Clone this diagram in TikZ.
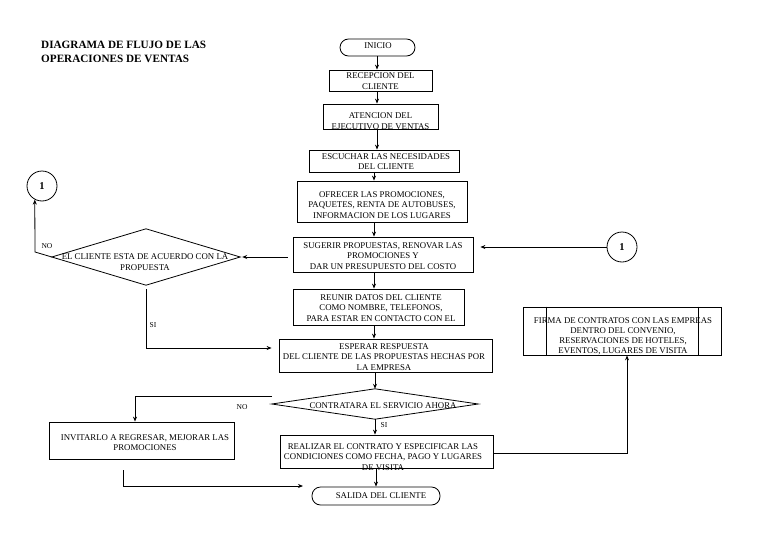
\documentclass[tikz,border=0pt]{standalone}
\usepackage{fontspec}
\setmainfont{Liberation Serif}
\usetikzlibrary{arrows.meta,calc}
\begin{document}
\begin{tikzpicture}[x=1pt,y=-1pt]
\tikzset{
 bx/.style={draw=black, line width=0.8pt, inner sep=0pt, rectangle},
 term/.style={draw=black, line width=0.8pt, inner sep=0pt, rounded corners=8.5pt},
 txt/.style={inner sep=0pt, align=center, font=\fontsize{8.8}{10.5}\selectfont},
 arr/.style={draw=black, line width=0.8pt, -{Stealth[length=5pt,width=4pt]}},
 ln/.style={draw=black, line width=0.8pt},
 circ/.style={draw=black, circle, line width=0.8pt, minimum size=30pt, inner sep=0pt, font=\bfseries\fontsize{10.5}{12}\selectfont},
 lbl/.style={inner sep=0pt, font=\fontsize{7.5}{9}\selectfont},
 area/.style={inner sep=0pt, rectangle}
}
\fill[white] (0,0) rectangle (768,543);
\useasboundingbox (0,0) rectangle (768,543);

% title
\node[anchor=north west, inner sep=0pt, align=left, font=\bfseries\fontsize{11.2}{14}\selectfont] (title) at (41,41) {DIAGRAMA DE FLUJO DE LAS\\OPERACIONES DE VENTAS};

% terminals
\node[term, minimum width=75pt, minimum height=17pt] (ini) at (377.5,47.5) {};
\node[txt] (ini-t) at (378,46) {INICIO};
\node[term, minimum width=128pt, minimum height=18pt] (sal) at (376,496) {};
\node[txt] (sal-t) at (381,496) {SALIDA DEL CLIENTE};

% boxes
\node[bx, minimum width=103pt, minimum height=21pt] (b1) at (380.5,80.5) {};
\node[txt] (b1-t) at (380.5,81) {RECEPCION DEL\\CLIENTE};
\node[bx, minimum width=115pt, minimum height=25pt] (b2) at (380.5,116.5) {};
\node[txt] (b2-t) at (380.5,121) {ATENCION DEL\\EJECUTIVO DE VENTAS};
\node[bx, minimum width=150pt, minimum height=22pt] (b3) at (384,161) {};
\node[txt] (b3-t) at (386,161.5) {ESCUCHAR LAS NECESIDADES\\DEL CLIENTE};
\node[bx, minimum width=170pt, minimum height=41pt] (b4) at (382,201.5) {};
\node[txt] (b4-t) at (382,205) {OFRECER LAS PROMOCIONES,\\PAQUETES, RENTA DE AUTOBUSES,\\INFORMACION DE LOS LUGARES};
\node[bx, minimum width=180pt, minimum height=35pt] (b5) at (383,254.5) {};
\node[txt] (b5-t) at (383,256) {SUGERIR PROPUESTAS, RENOVAR LAS\\PROMOCIONES Y\\DAR UN PRESUPUESTO DEL COSTO};
\node[bx, minimum width=171pt, minimum height=36pt] (b6) at (378.5,307) {};
\node[txt] (b6-t) at (381,308) {REUNIR DATOS DEL CLIENTE\\COMO NOMBRE, TELEFONOS,\\PARA ESTAR EN CONTACTO CON EL};
\node[bx, minimum width=213pt, minimum height=33pt] (b7) at (385.5,355.5) {};
\node[txt] (b7-t) at (384,357) {ESPERAR RESPUESTA\\DEL CLIENTE DE LAS PROPUESTAS HECHAS POR\\LA EMPRESA};
\node[bx, minimum width=185pt, minimum height=37pt] (b8) at (141.5,440.5) {};
\node[txt] (b8-t) at (145,442.5) {INVITARLO A REGRESAR, MEJORAR LAS\\PROMOCIONES};
\node[bx, minimum width=213pt, minimum height=33pt] (b9) at (386.5,451.5) {};
\node[txt] (b9-t) at (383,457) {REALIZAR EL CONTRATO Y ESPECIFICAR LAS\\CONDICIONES COMO FECHA, PAGO Y LUGARES\\DE VISITA};
\node[bx, minimum width=198pt, minimum height=48pt] (b10) at (622,331) {};
\draw[ln] ($(b10.north west)+(24,0)$) -- ($(b10.south west)+(24,0)$);
\draw[ln] ($(b10.north east)+(-23,0)$) -- ($(b10.south east)+(-23,0)$);
\node[txt, font=\fontsize{8.8}{10}\selectfont] (b10-t) at (623,336) {FIRMA DE CONTRATOS CON LAS EMPREAS\\DENTRO DEL CONVENIO,\\RESERVACIONES DE HOTELES,\\EVENTOS, LUGARES DE VISITA};

% decisions
\node[area, minimum width=188pt, minimum height=56pt] (d1) at (146,257) {};
\draw[ln] (d1.west) -- (d1.north) -- (d1.east) -- (d1.south) -- cycle;
\node[txt] (d1-t) at (145,262) {EL CLIENTE ESTA DE ACUERDO CON LA\\PROPUESTA};
\node[area, minimum width=206pt, minimum height=30pt] (d2) at (375,404) {};
\draw[ln] (d2.west) -- (d2.north) -- (d2.east) -- (d2.south) -- cycle;
\node[txt] (d2-t) at (383,406) {CONTRATARA EL SERVICIO AHORA};

% connectors circles
\node[circ] (c1) at (42,186) {1};
\node[circ] (c2) at (622,247) {1};

% coordinates
\coordinate (cxa) at (377,0);
\coordinate (cxb) at (374,0);
\coordinate (nocorner) at (35,252);
\coordinate (sicorner) at (146,348);
\coordinate (no2a) at (272,396);
\coordinate (no2b) at (135,396);
\coordinate (invc) at (123,486);
\coordinate (invend) at (303,486);
\coordinate (fc) at (627,453);

% main flow
\draw[arr] (ini.south -| cxa) -- (b1.north -| cxa);
\draw[arr] (b1.south -| cxa) -- (b2.north -| cxa);
\draw[arr] (b2.south -| cxa) -- (b3.north -| cxa);
\draw[arr] (b3.south -| cxb) -- (b4.north -| cxb);
\draw[arr] (b4.south -| cxb) -- (b5.north -| cxb);
\draw[arr] (b5.south -| cxb) -- (b6.north -| cxb);
\draw[arr] (b6.south -| cxb) -- (b7.north -| cxb);
\draw[arr] (b7.south -| d2.north) -- (d2.north);
\draw[arr] (d2.south) -- (b9.north -| d2.south);
\draw[arr] (b9.south -| sal.north) -- (sal.north);

% decision 1
\draw[arr, shorten <=5pt, shorten >=2pt] (b5.west |- d1.east) -- (d1.east);
\draw[arr] (d1.west) -- (nocorner) -- (c1.242);
\node[lbl] (no1) at (47,246) {NO};
\draw[arr, shorten <=4pt, shorten >=7pt] (d1.south) -- (sicorner) -- (b7.west |- sicorner);
\node[lbl] (si1) at (153,325) {SI};

% right connector
\draw[arr, shorten >=7pt] (c2.west) -- (b5.east |- c2.west);

% decision 2
\draw[arr] (no2a) -- (no2b) -- (no2b |- b8.north);
\node[lbl] (no2) at (242,407) {NO};
\node[lbl] (si2) at (384,425) {SI};

% invitarlo to salida
\draw[arr, shorten <=11pt] (b8.south -| invc) -- (invc) -- (invend);

% realizar to firma
\draw[arr] (b9.east |- fc) -- (fc) -- (fc |- b10.south);
\end{tikzpicture}
\end{document}
